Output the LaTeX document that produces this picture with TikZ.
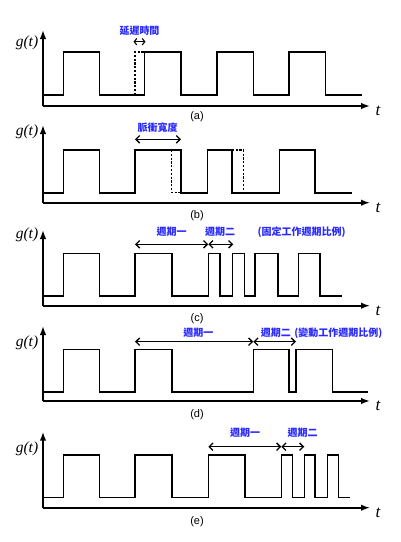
\documentclass[tikz,border=0pt]{standalone}
\usepackage{fontspec}
\setmainfont{Liberation Serif}
\setsansfont{Liberation Sans}
\newfontfamily\cjk{Noto Sans CJK TC}
\usetikzlibrary{arrows.meta}
\definecolor{lblue}{RGB}{40,40,255}
\begin{document}
\begin{tikzpicture}[x=1pt,y=-1pt,
  sig/.style={line width=1.6pt,line join=miter},
  dsig/.style={line width=1.4pt,dash pattern=on 2.2pt off 1.6pt},
  axis/.style={line width=1.6pt,-{Latex[length=9pt,width=6.5pt]}},
  span/.style={line width=1.3pt,{Straight Barb[length=3.8pt,width=7.5pt,line width=1.3pt]}-{Straight Barb[length=3.8pt,width=7.5pt,line width=1.3pt]}},
  shortspan/.style={line width=1.1pt,{Straight Barb[length=2.6pt,width=6.5pt,line width=1.1pt]}-{Straight Barb[length=2.6pt,width=6.5pt,line width=1.1pt]}},
  cj/.style={font=\cjk\bfseries\fontsize{10}{12}\selectfont,text=lblue,inner sep=0pt},
  gl/.style={font=\fontsize{15.5}{16}\selectfont\itshape,inner sep=0pt},
  tl/.style={font=\fontsize{17}{18}\selectfont\itshape,inner sep=0pt},
  captxt/.style={font=\sffamily\fontsize{11}{12}\selectfont,inner sep=0pt}]
\useasboundingbox (0,0) rectangle (400,542);
% ---------- (a)
\coordinate (aO) at (43,106); \coordinate (aY) at (43,30); \coordinate (aX) at (370,106);
\draw[axis] (aO) -- (aY);
\draw[axis] (aO) -- (aX);
\node[gl] (ag) at (27,43) {g(t)};
\node[tl] (at) at (378,111) {t};
\node[captxt] (acap) at (197,117) {(a)};
\draw[sig] (43,95) -| (63.3,52) -| (99.3,95) -| (144.3,52) -| (181,95) -| (216.7,52) -| (253.3,95) -| (288.7,52) -| (325.3,95) -- (361.7,95);
\draw[dsig] (135,95) -- (135,52) -- (144.3,52);
\coordinate (a1) at (133.5,41.7); \coordinate (a2) at (145.5,41.7);
\draw[shortspan] (a1) -- (a2);
\node[cj] (al) at (139.5,31) {延遲時間};
% ---------- (b)
\coordinate (bO) at (43,202.7); \coordinate (bY) at (43,125); \coordinate (bX) at (370,202.7);
\draw[axis] (bO) -- (bY);
\draw[axis] (bO) -- (bX);
\node[gl] (bg) at (27,132) {g(t)};
\node[tl] (bt) at (378,208) {t};
\node[captxt] (bcap) at (197,216) {(b)};
\draw[sig] (43,192.7) -| (63.3,150) -| (99.3,192.7) -| (135,150) -| (181,192.7) -| (207.3,150) -| (231.7,192.7) -| (279.3,150) -| (315,192.7) -- (351.7,192.7);
\draw[dsig] (171.7,150) -- (171.7,192.7) -- (181,192.7);
\draw[dsig] (231.7,150) -- (243.3,150) -- (243.3,192.7);
\coordinate (b1) at (135,139.3); \coordinate (b2) at (181,139.3);
\draw[span] (b1) -- (b2);
\node[cj] (bl) at (157.5,127.3) {脈衝寬度};
% ---------- (c)
\coordinate (cO) at (43,305.7); \coordinate (cY) at (43,230); \coordinate (cX) at (370,305.7);
\draw[axis] (cO) -- (cY);
\draw[axis] (cO) -- (cX);
\node[gl] (cg) at (27,235) {g(t)};
\node[tl] (ct) at (378,311) {t};
\node[captxt] (ccap) at (197,319) {(c)};
\draw[sig] (43,296) -| (63.3,253.3) -| (99.3,296) -| (135,253.3) -| (171.7,296) -| (208.3,253.3) -| (220,296) -| (232.3,253.3) -| (244.3,296) -| (255,253.3) -| (278,296) -| (298.3,253.3) -| (320,296) -- (341.7,296);
\coordinate (c1) at (135,244.3); \coordinate (c2) at (208.3,244.3); \coordinate (c3) at (233.3,244.3);
\draw[span] (c1) -- (c2);
\draw[span] (c2) -- (c3);
\node[cj] (cl1) at (171.7,231.7) {週期一};
\node[cj] (cl2) at (220,231.7) {週期二};
\node[cj] (cl3) at (301.7,231.7) {(固定工作週期比例)};
% ---------- (d)
\coordinate (dO) at (43,401); \coordinate (dY) at (43,326); \coordinate (dX) at (370,401);
\draw[axis] (dO) -- (dY);
\draw[axis] (dO) -- (dX);
\node[gl] (dg) at (27,342.7) {g(t)};
\node[tl] (dt) at (378,406) {t};
\node[captxt] (dcap) at (197,415) {(d)};
\draw[sig] (43,391.7) -| (63.3,349.3) -| (99.3,391.7) -| (135,349.3) -| (171.7,391.7) -| (253.3,349.3) -| (289,391.7) -| (296,349.3) -| (332.3,391.7) -- (368.3,391.7);
\coordinate (d1) at (135,341.7); \coordinate (d2) at (253.3,341.7); \coordinate (d3) at (296,341.7);
\draw[span] (d1) -- (d2);
\draw[span] (d2) -- (d3);
\node[cj] (dl1) at (198.3,332.7) {週期一};
\node[cj] (dl2) at (275.8,332.7) {週期二};
\node[cj] (dl3) at (338.3,332.7) {(變動工作週期比例)};
% ---------- (e)
\coordinate (eO) at (43,507.7); \coordinate (eY) at (43,431.7); \coordinate (eX) at (370,507.7);
\draw[axis] (eO) -- (eY);
\draw[axis] (eO) -- (eX);
\node[gl] (eg) at (27,448.3) {g(t)};
\node[tl] (et) at (378,513) {t};
\node[captxt] (ecap) at (197,521.7) {(e)};
\draw[sig] (43,497.3) -| (63.3,455) -| (99.3,497.3) -| (135,455) -| (171.7,497.3) -| (208.3,455) -| (245,497.3) -| (281.3,455) -| (292.3,497.3) -| (304.3,455) -| (315,497.3) -| (327.3,455) -| (338.3,497.3) -- (350,497.3);
\coordinate (e1) at (208.3,446.7); \coordinate (e2) at (281.3,446.7); \coordinate (e3) at (304.3,446.7);
\draw[span] (e1) -- (e2);
\draw[span] (e2) -- (e3);
\node[cj] (el1) at (245,432.3) {週期一};
\node[cj] (el2) at (302.5,432.3) {週期二};
\end{tikzpicture}
\end{document}
